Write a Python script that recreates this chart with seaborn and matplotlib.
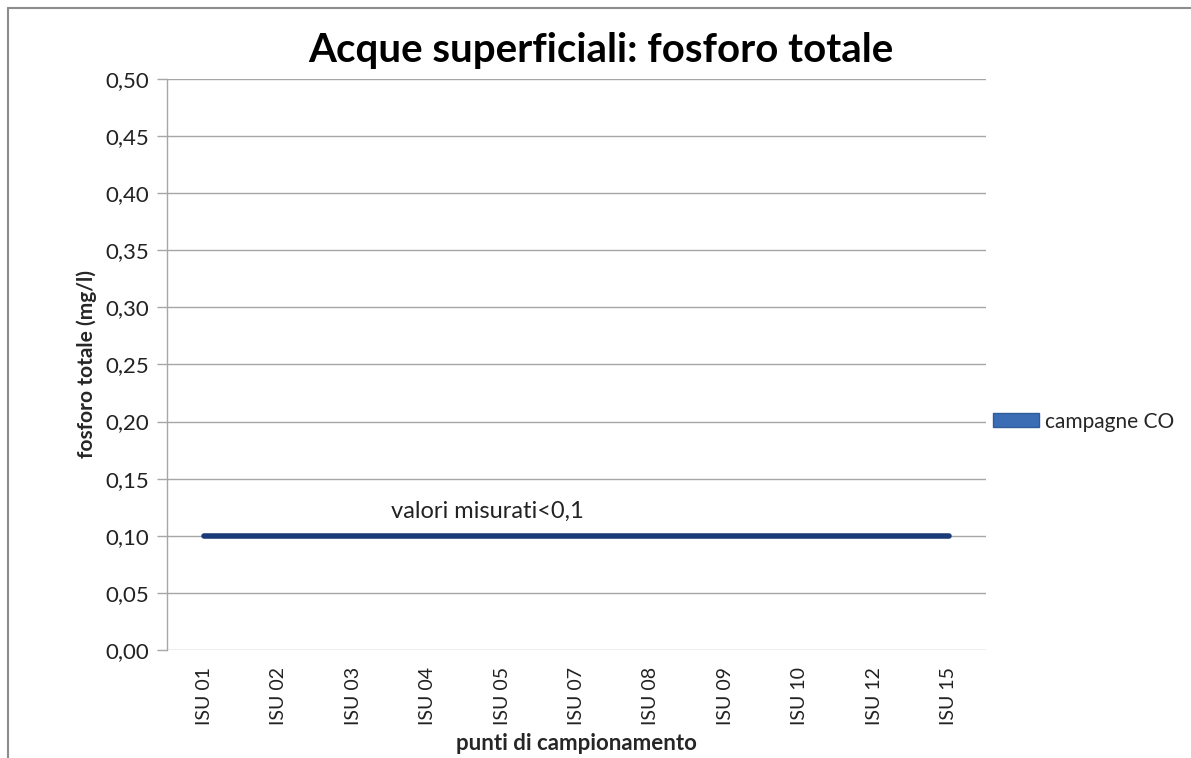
import matplotlib
matplotlib.use("Agg")
import matplotlib.pyplot as plt
import seaborn as sns
import pandas as pd
from matplotlib.patches import Patch
from matplotlib.lines import Line2D
from matplotlib.ticker import FuncFormatter, MultipleLocator

categories = ["ISU 01", "ISU 02", "ISU 03", "ISU 04", "ISU 05", "ISU 07",
              "ISU 08", "ISU 09", "ISU 10", "ISU 12", "ISU 15"]
values = [0.10] * len(categories)
series_name = "campagne CO"
title = "Acque superficiali: fosforo totale"
xlabel = "punti di campionamento"
ylabel = "fosforo totale (mg/l)"
annotation = "valori misurati<0,1"

sns.set_theme(style="white")
plt.rcParams['font.family'] = ['Lato', 'DejaVu Sans']

df = pd.DataFrame({"punto": categories, "valore": values})

fig = plt.figure(figsize=(11.91, 7.58), dpi=100)
ax = fig.add_axes([0.1402, 0.1425, 0.6877, 0.7533])

sns.lineplot(data=df, x="punto", y="valore", ax=ax, color="#1B3A78",
             linewidth=4, sort=False, legend=False, solid_capstyle="round")

ax.set_xlim(-0.5, len(categories) - 0.5)
ax.set_ylim(0, 0.5)
ax.yaxis.set_major_locator(MultipleLocator(0.05))
ax.yaxis.set_major_formatter(FuncFormatter(lambda v, p: f"{v:.2f}".replace(".", ",")))
ax.grid(axis="y", color="#A6A6A6", linewidth=1)
ax.set_axisbelow(True)
for s in ["top", "right", "bottom"]:
    ax.spines[s].set_visible(False)
ax.spines["left"].set_color("#A6A6A6")
ax.spines["left"].set_linewidth(1)
ax.tick_params(axis="y", which="major", left=True, length=7, width=1,
               color="#A6A6A6", labelsize=16, pad=6, labelcolor="#222222")
ax.tick_params(axis="x", bottom=False, labelsize=14, labelrotation=90,
               pad=6, labelcolor="#222222")

ax.set_title(title, fontsize=29, fontweight="bold", pad=12, color="black",
             x=0.53)
ax.set_xlabel(xlabel, fontsize=16, fontweight="bold", labelpad=6)
ax.set_ylabel(ylabel, fontsize=15, fontweight="bold", labelpad=6)

ax.text(3.8, 0.121, annotation, ha="center", va="center", fontsize=17,
        color="#222222")

handle = Patch(facecolor="#3A6DB3", edgecolor="#2F5C9A", label=series_name)
leg = ax.legend(handles=[handle], loc="center left", bbox_to_anchor=(1.0085, 0.4),
                frameon=False, fontsize=15, handlelength=2.2, handleheight=0.65,
                handletextpad=0.3, borderpad=0, borderaxespad=0)

fig.lines.append(Line2D([8 / 1191, 1], [1 - 8 / 758, 1 - 8 / 758],
                        transform=fig.transFigure, color="#8C8C8C", linewidth=1.5))
fig.lines.append(Line2D([8 / 1191, 8 / 1191], [0, 1 - 8 / 758],
                        transform=fig.transFigure, color="#8C8C8C", linewidth=1.5))

fig.savefig("out.png", dpi=100, facecolor="white")
